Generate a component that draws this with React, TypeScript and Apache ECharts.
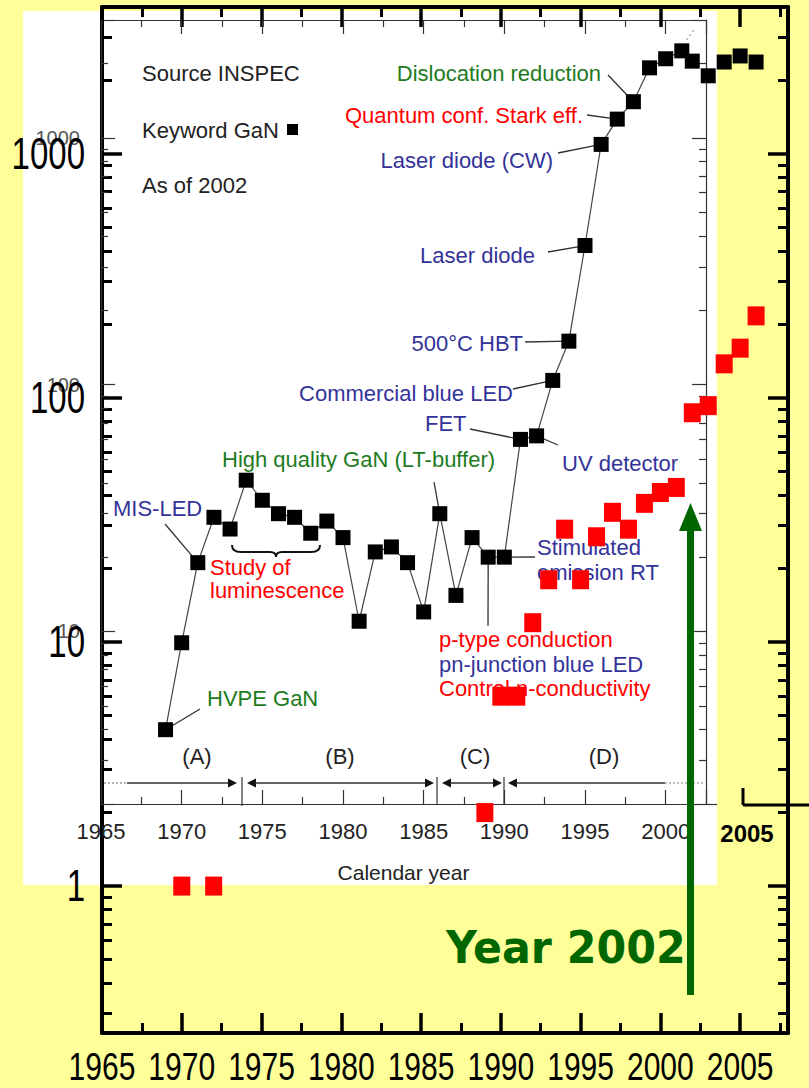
import React, { useEffect, useRef } from "react";
import * as echarts from "echarts";

const BRACE_PATH =
  "M0,0 C0,5 3,7 9,7 L38,7 C42,7 44,9 44,12 C44,9 46,7 50,7 L79,7 C85,7 88,5 88,0";
echarts.graphic.registerShape("brace", echarts.graphic.extendPath(BRACE_PATH, {}));

// ---------- data ----------
const innerYears = [
  1969, 1970, 1971, 1972, 1973, 1974, 1975, 1976, 1977, 1978, 1979, 1980, 1981, 1982, 1983,
  1984, 1985, 1986, 1987, 1988, 1989, 1990, 1991, 1992, 1993, 1994, 1995, 1996, 1997, 1998,
  1999, 2000, 2001,
];
const innerCounts = [
  4, 9, 19, 29, 26, 41, 34, 30, 29, 25, 28, 24, 11, 21, 22, 19, 12, 30, 14, 24, 20, 20, 60, 62,
  104, 150, 366, 940, 1190, 1400, 1920, 2090, 2250,
];
const recentYears = [2002, 2003, 2004, 2005, 2006];
const recentCounts = [2400, 2090, 2380, 2520, 2380];
const redYears = [
  1970, 1972, 1989, 1990, 1991, 1992, 1993, 1994, 1995, 1996, 1997, 1998, 1999, 2000, 2001,
  2002, 2003, 2004, 2005, 2006,
];
const redCounts = [1, 1, 2, 6, 6, 12, 18, 29, 18, 27, 34, 29, 37, 41, 43, 87, 93, 138, 160, 217];
const trendYears = [2001.3, 2001.8];
const trendCounts = [2490, 2760];

const outerYearRange = [1965, 2008];
const innerYearRange = [1965, 2002.5];
const outerCountRange = [0.25, 4000];
const innerCountRange = [2, 3000];
const yearStep = 5;
const outerXTickLabels = [1965, 1970, 1975, 1980, 1985, 1990, 1995, 2000, 2005];
const outerYTickLabels = [1, 10, 100, 1000];

// ---------- styles ----------
const BLUE = "#333399";
const GREEN = "#1e7b1e";
const RED = "#ff0000";
const INK = "#222222";
const SANS = "'Liberation Sans', Arial, sans-serif";

const annotations: { t: string; x: number; y: number; c: string; a?: string }[] = [
  { t: "Source INSPEC", x: 142, y: 73, c: INK },
  { t: "Keyword GaN", x: 142, y: 130, c: INK },
  { t: "As of 2002", x: 142, y: 185, c: INK },
  { t: "Dislocation reduction", x: 601, y: 73, c: GREEN, a: "right" },
  { t: "Quantum conf. Stark eff.", x: 583, y: 115, c: RED, a: "right" },
  { t: "Laser diode (CW)", x: 553, y: 160, c: BLUE, a: "right" },
  { t: "Laser diode", x: 535, y: 255, c: BLUE, a: "right" },
  { t: "500°C HBT", x: 523, y: 343, c: BLUE, a: "right" },
  { t: "Commercial blue LED", x: 513, y: 393, c: BLUE, a: "right" },
  { t: "FET", x: 425, y: 423, c: BLUE },
  { t: "UV detector", x: 562, y: 463, c: BLUE },
  { t: "High quality GaN (LT-buffer)", x: 222, y: 459, c: GREEN },
  { t: "MIS-LED", x: 113, y: 508, c: BLUE },
  { t: "Study of", x: 210, y: 567.5, c: RED },
  { t: "luminescence", x: 210, y: 590.5, c: RED },
  { t: "Stimulated", x: 537, y: 547, c: BLUE },
  { t: "emission RT", x: 537, y: 572, c: BLUE },
  { t: "p-type conduction", x: 439, y: 639, c: RED },
  { t: "pn-junction blue LED", x: 439, y: 664, c: BLUE },
  { t: "Control n-conductivity", x: 439, y: 688, c: RED },
  { t: "HVPE GaN", x: 207, y: 698, c: GREEN },
  { t: "(A)", x: 197, y: 756, c: INK, a: "center" },
  { t: "(B)", x: 340, y: 756, c: INK, a: "center" },
  { t: "(C)", x: 475, y: 756, c: INK, a: "center" },
  { t: "(D)", x: 604, y: 756, c: INK, a: "center" },
];

const leaders: { from: number[]; year: number }[] = [
  { from: [608, 75], year: 1998 },
  { from: [587, 115], year: 1997 },
  { from: [558, 153], year: 1996 },
  { from: [548, 252], year: 1995 },
  { from: [525, 342], year: 1994 },
  { from: [513, 389], year: 1993 },
  { from: [470, 429], year: 1991 },
  { from: [558, 445], year: 1992 },
  { from: [434, 482], year: 1986 },
  { from: [165, 524], year: 1971 },
  { from: [535, 557], year: 1990 },
  { from: [488, 626], year: 1989 },
  { from: [200, 709], year: 1969 },
];

const fmt = (v: number) => String(v);

function xAxisDef(grid: number, pos: string, range: number[], outer: boolean, labels: boolean, extra: any = {}) {
  return {
    type: "value",
    gridIndex: grid,
    position: pos,
    min: range[0],
    max: range[1],
    interval: yearStep,
    axisLine: { show: true, onZero: false, lineStyle: { color: outer ? "#000" : "#333", width: outer ? 4 : 1.2 } },
    axisTick: { show: true, inside: true, length: outer ? 20 : 14, lineStyle: { color: outer ? "#000" : "#333", width: outer ? 3.5 : 1.2 } },
    minorTick: { show: true, splitNumber: 2, length: outer ? 10 : 7, lineStyle: { color: outer ? "#000" : "#333", width: outer ? 3 : 1.2 } },
    splitLine: { show: false },
    minorSplitLine: { show: false },
    axisLabel: labels
      ? {
          show: true,
          formatter: fmt,
          showMaxLabel: false,
          fontSize: 22,
          fontFamily: SANS,
          color: INK,
          margin: 16,
        }
      : { show: false },
    ...extra,
  };
}

function yAxisDef(grid: number, pos: string, range: number[], outer: boolean, labels: boolean) {
  return {
    type: "log",
    logBase: 10,
    gridIndex: grid,
    position: pos,
    min: range[0],
    max: range[1],
    axisLine: { show: true, onZero: false, lineStyle: { color: outer ? "#000" : "#333", width: outer ? 4 : 1.2 } },
    axisTick: { show: true, inside: true, length: outer ? 20 : 14, lineStyle: { color: outer ? "#000" : "#333", width: outer ? 3.5 : 1.2 } },
    minorTick: { show: true, splitNumber: 9, length: outer ? 10 : 7, lineStyle: { color: outer ? "#000" : "#333", width: outer ? 3 : 1.2 } },
    splitLine: { show: false },
    minorSplitLine: { show: false },
    axisLabel: labels
      ? {
          show: true,
          formatter: fmt,
          showMinLabel: false,
          showMaxLabel: false,
          fontSize: 20,
          fontFamily: SANS,
          color: "#555",
          margin: 21,
        }
      : { show: false },
  };
}

function buildOption() {
  return {
    animation: false,
    backgroundColor: "#FFFF99",
    grid: [
      { left: 102, right: 21, top: 7, bottom: 55, outerBoundsMode: "none", containLabel: false },
      { left: 101, right: 103, top: 20, bottom: 284, outerBoundsMode: "none", containLabel: false },
    ],
    xAxis: [
      xAxisDef(0, "bottom", outerYearRange, true, false),
      xAxisDef(0, "top", outerYearRange, true, false),
      xAxisDef(1, "bottom", innerYearRange, false, true, {
        name: "Calendar year",
        nameLocation: "middle",
        nameGap: 58,
        nameTextStyle: { fontSize: 21, fontFamily: SANS, color: INK },
      }),
      xAxisDef(1, "top", innerYearRange, false, false),
    ],
    yAxis: [
      yAxisDef(0, "left", outerCountRange, true, false),
      yAxisDef(0, "right", outerCountRange, true, false),
      yAxisDef(1, "left", innerCountRange, false, true),
      yAxisDef(1, "right", innerCountRange, false, false),
    ],
    series: [
      {
        type: "line",
        xAxisIndex: 2,
        yAxisIndex: 2,
        data: innerYears.map((y, i) => [y, innerCounts[i]]),
        symbol: "rect",
        symbolSize: 15,
        showAllSymbol: true,
        clip: false,
        itemStyle: { color: "#000", opacity: 1 },
        lineStyle: { color: "#444", width: 1.2 },
        z: 3,
      },
      {
        type: "line",
        xAxisIndex: 2,
        yAxisIndex: 2,
        data: trendYears.map((y, i) => [y, trendCounts[i]]),
        symbol: "none",
        clip: false,
        lineStyle: { color: "#aaa", width: 1.5, type: [2, 3] },
        z: 2,
      },
      {
        type: "scatter",
        xAxisIndex: 0,
        yAxisIndex: 0,
        data: recentYears.map((y, i) => [y, recentCounts[i]]),
        symbol: "rect",
        symbolSize: 15,
        clip: false,
        itemStyle: { color: "#000", opacity: 1 },
        z: 3,
      },
      {
        type: "scatter",
        xAxisIndex: 0,
        yAxisIndex: 0,
        data: redYears.map((y, i) => [y, redCounts[i]]),
        symbol: "rect",
        symbolSize: [17, 19],
        clip: false,
        itemStyle: { color: RED, opacity: 1 },
        z: 4,
      },
    ],
  };
}

function arrowHead(tipX: number, y: number, dir: number) {
  return {
    type: "polygon",
    z: 1,
    shape: { points: [[tipX, y], [tipX - dir * 9, y - 4.5], [tipX - dir * 9, y + 4.5]] },
    style: { fill: "#111" },
  };
}
function seg(x1: number, y1: number, x2: number, y2: number, stroke: string, lineWidth: number, dash?: number[]) {
  return {
    type: "line",
    z: 1,
    shape: { x1, y1, x2, y2 },
    style: { stroke, lineWidth, lineDash: dash || null },
  };
}
function label(t: string, x: number, y: number, c: string, a = "left", extra: any = {}, elExtra: any = {}) {
  return {
    type: "text",
    z: 1,
    x,
    y,
    ...elExtra,
    style: {
      text: t,
      fill: c,
      fontSize: 22,
      lineHeight: 22,
      fontFamily: SANS,
      align: a,
      verticalAlign: "middle",
      textAlign: a,
      textVerticalAlign: "middle",
      ...extra,
    },
  };
}

function buildGraphic(innerPx: (year: number) => number[], outerPx: (v: number[]) => number[]) {
  const els: any[] = [];
  els.push({ type: "rect", z: -10, shape: { x: 23, y: 11, width: 694, height: 874 }, style: { fill: "#ffffff" } });
  annotations.forEach((a) => els.push(label(a.t, a.x, a.y, a.c, a.a || "left")));
  els.push({ type: "rect", z: 1, shape: { x: 287, y: 124, width: 11, height: 11 }, style: { fill: "#000" } });
  leaders.forEach((l) => {
    const p = innerPx(l.year);
    els.push(seg(l.from[0], l.from[1], p[0], p[1], "#333", 1.3));
  });
  // outer axis tick labels (condensed, placed through the outer axes' scales)
  outerYTickLabels.forEach((v) => {
    const p = outerPx([outerYearRange[0], v]);
    els.push(label(String(v), 85, p[1], "#000", "right", { fontSize: 44, lineHeight: 34 }, { scaleX: 0.75, z: 5 }));
  });
  outerXTickLabels.forEach((yr) => {
    const p = outerPx([yr, 1]);
    els.push(label(String(yr), p[0], 1066, "#000", "center", { fontSize: 39, lineHeight: 30 }, { scaleX: 0.77, z: 5 }));
  });
  // brace
  els.push({ type: "brace", z: 1, x: 232, y: 545, style: { stroke: "#111", fill: "none", lineWidth: 2 } });
  // period arrows
  const py = 783;
  els.push(seg(104, py, 127, py, "#999", 1.3, [2, 2]));
  els.push(seg(127, py, 230, py, "#333", 1.5));
  els.push(arrowHead(237, py, 1));
  els.push(seg(242, 777, 242, 806, "#333", 1.2));
  els.push(arrowHead(247, py, -1));
  els.push(seg(255, py, 427, py, "#333", 1.5));
  els.push(arrowHead(434, py, 1));
  els.push(seg(437, 777, 437, 804, "#333", 1.2));
  els.push(arrowHead(442, py, -1));
  els.push(seg(450, py, 494, py, "#333", 1.5));
  els.push(arrowHead(502, py, 1));
  els.push(seg(504, 777, 504, 804, "#333", 1.2));
  els.push(arrowHead(508, py, -1));
  els.push(seg(516, py, 665, py, "#333", 1.5));
  els.push(seg(665, py, 703, py, "#aaa", 1.3, [2, 2]));
  // extended axis piece with 2005
  els.push(seg(706, 804.5, 717, 804.5, "#333", 1.2));
  els.push(seg(743, 805, 809, 805, "#000", 3));
  els.push(seg(743, 805, 743, 788, "#000", 3));
  els.push(label("2005", 747, 833, "#000", "center", { fontSize: 24, lineHeight: 24, fontWeight: "bold" }));
  // green arrow
  els.push({ type: "rect", z: 20, shape: { x: 687, y: 528, width: 7, height: 467 }, style: { fill: "#006600" } });
  els.push({
    type: "polygon",
    z: 20,
    shape: { points: [[679, 531], [702, 531], [690.5, 503]] },
    style: { fill: "#006600" },
  });
  els.push(
    label("Year 2002", 446, 947, "#006600", "left",
      { fontSize: 45, lineHeight: 45, fontWeight: "bold", fontFamily: "'DejaVu Sans', sans-serif" },
      { scaleX: 0.95, z: 20 })
  );
  return els;
}

export default function App() {
  const ref = useRef<HTMLDivElement>(null);
  useEffect(() => {
    const chart = echarts.init(ref.current as HTMLDivElement, null, { renderer: "svg" });
    chart.setOption(buildOption() as any);
    const innerPx = (year: number) =>
      chart.convertToPixel({ seriesIndex: 0 }, [year, innerCounts[innerYears.indexOf(year)]]) as number[];
    const outerPx = (v: number[]) => chart.convertToPixel({ seriesIndex: 3 }, v) as number[];
    chart.setOption({ graphic: buildGraphic(innerPx, outerPx) } as any);
    return () => chart.dispose();
  }, []);
  return (
    <div
      ref={ref}
      style={{ position: "fixed", left: 0, top: 0, width: 809, height: 1088 }}
    />
  );
}
